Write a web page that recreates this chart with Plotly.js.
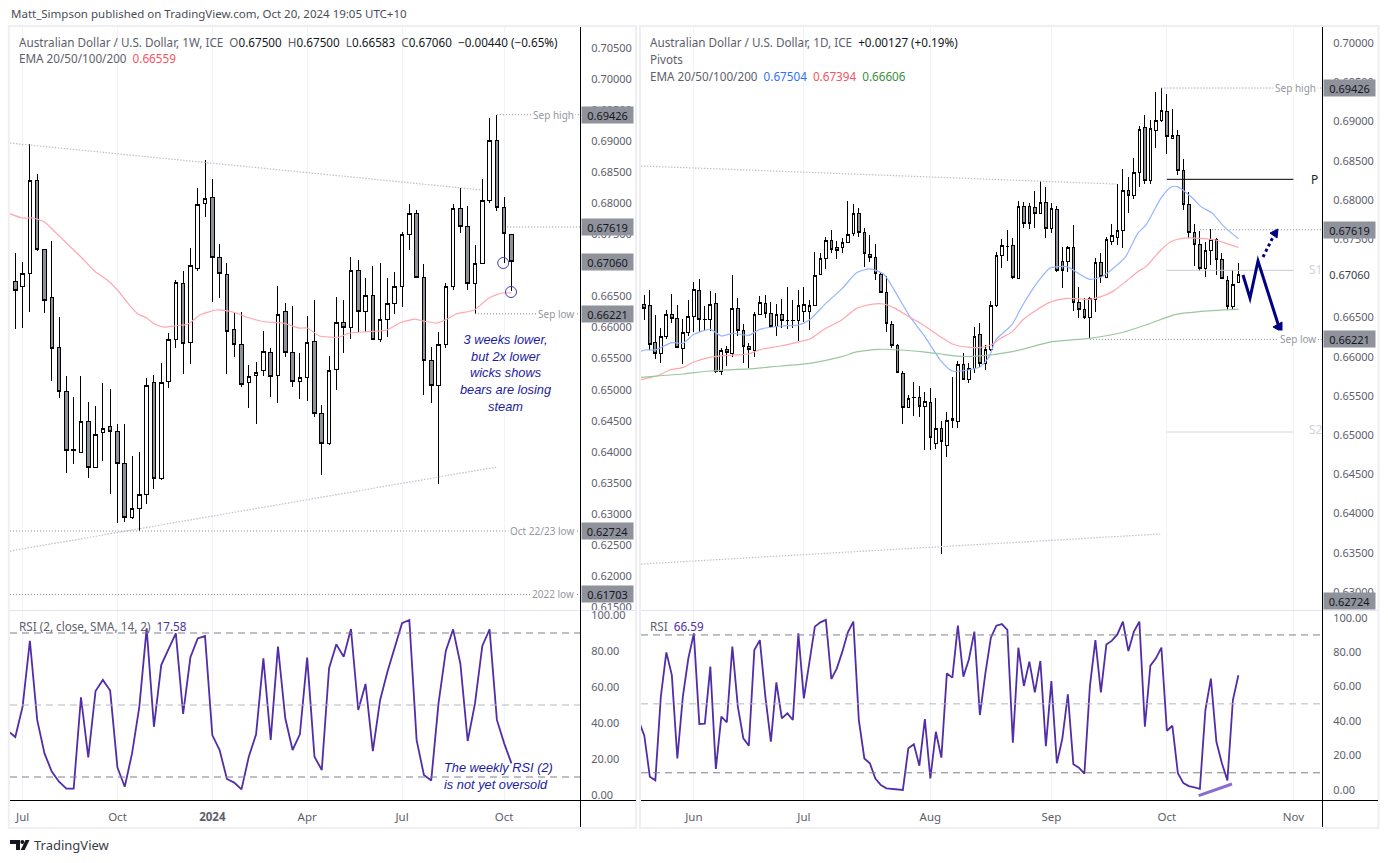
<!DOCTYPE html>
<html><head><meta charset="utf-8">
<script src="https://cdn.plot.ly/plotly-3.0.1.min.js"></script>
<style>html,body{margin:0;padding:0;background:#fff;overflow:hidden}#c{width:1388px;height:863px}.boxlayer path{shape-rendering:crispEdges}</style>
</head><body><div id="c"></div>
<script>
const weekOpen=[.68777,.66749,.66668,.66878,.68375,.67264,.66491,.65686,.64978,.64028,.63996,.64495,.63754,.64318,.64414,.64334,.63819,.62949,.63094,.63320,.65123,.63577,.65139,.65815,.66717,.65767,.66958,.67989,.68101,.67135,.66846,.65976,.65735,.65123,.65235,.65316,.65606,.65235,.66266,.65606,.65139,.65203,.65783,.64624,.64141,.65332,.66089,.66008,.66926,.66266,.66523,.65815,.66137,.66395,.66668,.67490,.67828,.66813,.65477,.65074,.65719,.66668,.67924,.67634,.66701,.67023,.68053,.69019,.67940,.67500];
const weekHigh=[.6885,.67200,.67055,.68955,.68472,.67264,.67393,.66169,.65219,.64881,.65219,.64801,.64737,.65107,.65010,.64447,.64447,.63931,.63996,.65187,.65235,.65429,.65912,.66765,.66910,.67280,.68246,.68697,.68391,.67345,.67039,.66234,.66250,.65397,.65445,.65944,.65670,.66668,.66395,.66346,.65590,.66185,.66443,.64752,.65541,.66491,.66443,.67135,.67087,.66797,.66990,.67039,.66797,.66894,.67538,.67989,.67892,.67023,.65686,.65928,.66717,.67989,.68246,.67956,.67328,.68391,.69373,.69426,.68101,.67500];
const weekLow=[.6668,.65976,.65992,.66250,.67232,.66234,.65139,.64865,.63658,.63803,.63996,.63577,.63754,.63851,.63320,.62853,.62869,.62917,.62724,.63159,.63400,.63545,.65026,.65670,.65252,.65413,.66910,.67779,.66411,.66475,.65252,.65525,.65042,.64704,.64447,.65219,.64881,.64785,.65525,.65042,.64849,.64817,.64559,.63626,.64109,.64994,.65590,.65815,.65928,.65928,.65799,.65767,.65847,.66218,.66330,.67248,.66813,.64914,.64785,.63481,.65670,.66604,.67522,.66604,.66218,.67023,.68005,.67876,.67039,.66583];
const weekClose=[.66749,.66604,.66878,.68375,.67264,.66443,.65670,.64978,.64028,.64029,.64495,.63754,.64286,.64382,.64334,.63819,.62949,.63094,.63320,.65074,.63577,.65123,.65815,.66733,.65751,.67006,.67973,.68085,.67135,.66862,.65944,.65719,.65091,.65219,.65284,.65622,.65219,.66218,.65606,.65139,.65203,.65767,.64624,.64141,.65316,.66089,.66008,.66926,.66266,.66523,.65815,.66137,.66395,.66668,.67490,.67828,.66813,.65477,.65074,.65719,.66668,.67924,.67634,.66701,.67023,.68053,.69019,.67940,.67506,.67060];
const weekEmaX=[0,2,3.4,5,5.75,8,10,12,13.6,15,16.3,17.8,19,20.1,21.5,22.6,24.7,26.3,28.6,30.8,33.1,35.4,37.6,39.9,41,42.7,44,45.4,46.8,48.6,51.9,53.7,55.7,56.9,58.8,60.2,61.4,63.9,65.9,67.7,69];
const weekEma=[.67844,.67763,.67763,.67699,.67618,.67361,.67135,.66894,.66765,.66604,.66411,.66218,.66153,.66057,.66008,.66024,.66057,.66201,.66282,.66250,.66153,.66089,.66073,.65992,.65992,.65863,.65847,.65847,.65911,.65928,.65960,.66073,.66137,.66105,.66073,.66137,.66218,.66282,.66475,.66556,.66559];
const weekRsi=[35.6,32.2,49.1,85.7,41.7,23.1,13,7.4,3.5,3.5,54.3,20.9,57.8,63.9,58,15.2,4.6,23.1,49.1,92.6,37.9,72.2,81.1,89.8,45,76.5,87,88.3,33.3,25,8.9,6.9,3.1,21.3,33.7,75.9,30.6,82.4,42.6,25,33.7,76.3,21.3,13.9,70.4,83.7,76.8,92.2,47.2,61.7,24.4,52.8,68.5,82.4,95.4,97.2,30.5,11.1,8.1,50.9,80,92,72.8,30,50.9,82.8,92,41.7,28.7,17.58];

const dayOpen=[.66668,.66655,.66184,.66039,.66256,.66541,.66490,.66103,.66307,.66515,.66847,.66477,.66477,.66681,.65814,.66094,.66039,.66617,.66337,.66133,.66082,.66541,.66681,.66553,.66388,.66541,.66464,.66464,.66464,.66579,.66579,.66655,.67046,.67255,.67484,.67395,.67395,.67459,.67574,.67829,.67586,.67306,.67268,.67051,.66821,.66413,.66146,.65788,.65355,.65483,.65483,.65368,.65419,.64900,.65091,.64874,.65189,.65176,.65903,.65712,.65852,.66286,.65916,.66086,.66656,.67293,.67408,.67420,.67000,.67918,.67918,.67905,.67828,.67969,.67637,.67880,.67212,.67212,.67395,.66694,.66604,.66503,.66732,.67204,.67012,.67472,.67523,.67612,.68122,.68058,.68351,.68925,.68245,.68887,.69014,.69129,.68785,.68823,.68377,.67943,.67586,.67433,.67127,.67357,.67497,.67242,.66974,.66643,.66949];
const dayHigh=[.66787,.66851,.66532,.66371,.66596,.66800,.66660,.66481,.66723,.66953,.66991,.66647,.66838,.66808,.66111,.66137,.67038,.66749,.66418,.66171,.66566,.66775,.66787,.66694,.66672,.66736,.66889,.66723,.66851,.66889,.66723,.67336,.67323,.67522,.67616,.67471,.67514,.67981,.67943,.67892,.67637,.67552,.67433,.67076,.67025,.66452,.66158,.65818,.65512,.65674,.65627,.65546,.65597,.65470,.65185,.65296,.65737,.65946,.66044,.65916,.66375,.66426,.66150,.66711,.67336,.67497,.67616,.67510,.67981,.67969,.67956,.68113,.68241,.68164,.67956,.67922,.67404,.67408,.67676,.66885,.66745,.66758,.67255,.67318,.67531,.67688,.68198,.68394,.68288,.68534,.68942,.69082,.69018,.69376,.69426,.69350,.69154,.68891,.68517,.68096,.67688,.67599,.67467,.67624,.67510,.67318,.67025,.67106,.67195];
const dayLow=[.66468,.66086,.65975,.65925,.66231,.66434,.66107,.65912,.66264,.66320,.66311,.66328,.66332,.65797,.65767,.65882,.66001,.66264,.65925,.65861,.66001,.66541,.66490,.66367,.66269,.66362,.66349,.66367,.66205,.66439,.66345,.66655,.67046,.67123,.67327,.67250,.67327,.67459,.67544,.67531,.67148,.67212,.66983,.66808,.66320,.66116,.65788,.65147,.65342,.65249,.65236,.64811,.64811,.64823,.63481,.64721,.65091,.65087,.65704,.65661,.65797,.65873,.65831,.66073,.66634,.67136,.67225,.66987,.67000,.67637,.67625,.67637,.67828,.67518,.67573,.67085,.66872,.67085,.66587,.66490,.66477,.66221,.66575,.66936,.67012,.67420,.67420,.67382,.67833,.68007,.68168,.68203,.68198,.68657,.68997,.68581,.68772,.68313,.67871,.67510,.67153,.67089,.67021,.67166,.67038,.66987,.66592,.66604,.66949];
const dayClose=[.66613,.66154,.66039,.66260,.66541,.66486,.66120,.66311,.66515,.66860,.66477,.66478,.66668,.65814,.66082,.66056,.66617,.66337,.66133,.66094,.66541,.66694,.66553,.66388,.66541,.66464,.66465,.66465,.66655,.66668,.66655,.67038,.67255,.67484,.67370,.67357,.67459,.67561,.67829,.67586,.67318,.67268,.67064,.66813,.66426,.66146,.65797,.65355,.65470,.65484,.65368,.65431,.64976,.65091,.64913,.65189,.65210,.65903,.65712,.65852,.66260,.65916,.66095,.66656,.67293,.67420,.67409,.67008,.67918,.67701,.67701,.67828,.67969,.67637,.67892,.67098,.67098,.67395,.66694,.66604,.66503,.66745,.67204,.67025,.67497,.67548,.67612,.68122,.68058,.68351,.68900,.68245,.68912,.69014,.69142,.68810,.68823,.68377,.67943,.67586,.67433,.67127,.67357,.67497,.67242,.67000,.66643,.66923,.67051];
const dayEma20X=[-1,0,2,5,7,9,12,14,16,19,21,25,28,30,33,36,38.6,41,43.5,45.6,48.3,51,53.8,56,61,62.7,63.9,66.8,68.8,71.8,73.7,76.8,79.1,80.9,83,85.1,87.5,89.7,91.2,93.9,95.7,96.9,99.7,101.2,103.3,105.4,108];
const dayEma20=[.66056,.66086,.66086,.66180,.66171,.66286,.66350,.66264,.66299,.66273,.66350,.66392,.66405,.66468,.66681,.66872,.67072,.67119,.67055,.66830,.66511,.66256,.65958,.65818,.65869,.66001,.66214,.66405,.66660,.66979,.67127,.67149,.67055,.66987,.67013,.67119,.67276,.67574,.67680,.68020,.68160,.68169,.68020,.67914,.67828,.67658,.67504];
const dayEma50X=[-1,2.2,4.7,7.1,8.9,11.9,14.4,18.9,21.3,24.7,27.7,30.1,32.8,35.9,38.6,41.6,43.5,45.6,48.3,51,53.8,56,59.2,61,63,64.8,66.9,68.8,71.8,74,76.8,80.9,83,85.1,87.5,89.7,91.2,93.9,95.7,97.8,100.9,103.9,105.7,108];
const dayEma50=[.65703,.65754,.65831,.65865,.65929,.65992,.66014,.66035,.66095,.66137,.66184,.66226,.66354,.66469,.66617,.66672,.66672,.66617,.66503,.66392,.66256,.66163,.66120,.66118,.66150,.66235,.66320,.66469,.66617,.66702,.66745,.66732,.66766,.66830,.66957,.67085,.67149,.67361,.67467,.67510,.67510,.67488,.67446,.67394];
const dayEma100X=[-1,2.2,7.1,11.9,18.9,24.7,30.1,35.9,38.6,42.8,46.5,50.7,53.8,57.4,61,66.9,74.2,80.9,86.3,91.2,96.6,100.9,108];
const dayEma100=[.65733,.65754,.65780,.65818,.65844,.65882,.65916,.66001,.66061,.66095,.66086,.66061,.66035,.66005,.66010,.66065,.66192,.66235,.66299,.66405,.66541,.66575,.66606];
const dayRsi=[40,31.5,7.7,5.6,54.2,79.9,66.7,18.3,54.2,76.4,90.9,38.3,38.5,71.6,12.2,42.6,39.3,83.2,48.4,30,25.7,81.2,87,54.2,28,62.5,41.6,44.5,40.6,90.9,53.2,73.5,94.8,97.3,98.7,64.4,70.6,80.3,91.5,97.7,40.6,18.3,15.5,6.7,2.9,1,.6,.4,0,24.2,26.5,14.1,41.2,6.7,33.8,18.8,67.7,65.2,95.4,65.8,75.8,91.9,43.5,67.7,88.4,95.4,96.3,92.9,27.5,82.6,60.4,74.5,56.7,74.9,25.5,63.2,15.5,30,55.5,14.9,13,9.5,60,87,56.7,84.5,86.7,90.3,97.7,80.7,91.9,97.7,36.7,72.2,76.4,82.6,34.4,37.3,9.7,4,2.3,1.5,.7,46.4,64.6,28,15.5,5.6,52.2,66.59];

const weekTickVals=[2,15,28,41,54,68];
const weekTickText=['Jul','Oct','<b>2024</b>','Apr','Jul','Oct'];
const dayTickVals=[9,29,52,74,95,118];
const dayTickText=['Jun','Jul','Aug','Sep','Oct','Nov'];
const weekPriceTicks=[.705,.70,.695,.69,.685,.68,.675,.665,.66,.655,.65,.645,.64,.635,.63,.625,.62,.615];
const dayPriceTicks=[.70,.695,.69,.685,.68,.675,.665,.66,.655,.65,.645,.64,.635,.63];
const rsiTicks=[0,20,40,60,80,100];
const weekLevels=[.69426,.67619,.67060,.66221,.62724,.61703];
const dayLevels=[.69426,.67619,.66221];
const dayLastPrice=.67060;
const pivotP=.68262, pivotS1=.67102, pivotS2=.65040;

const W=1388,H=863;
const fx=p=>p/W, fy=p=>1-p/H;
const idx=a=>a.map((_,i)=>i);
const FONT='"Noto Sans","Open Sans",sans-serif';
const TXT='#5d606b', DARK='#131722', GREYLBL='#9598a1', BOX='#8f929b';
const PURPLE='#512da8', NAVY='#000080', DOWN='#8f9199';

function candle(x,o,h,l,c,xa,ya){
  return {type:'candlestick',x:x,open:o,high:h,low:l,close:c,xaxis:xa,yaxis:ya,
    increasing:{line:{color:'#000',width:1},fillcolor:'#fff'},
    decreasing:{line:{color:'#000',width:1},fillcolor:DOWN},
    whiskerwidth:0,hoverinfo:'skip',showlegend:false};
}
function line(x,y,xa,ya,color,width,smooth){
  return {type:'scatter',mode:'lines',x:x,y:y,xaxis:xa,yaxis:ya,
    line:smooth?{color:color,width:width,shape:'spline',smoothing:.6}:{color:color,width:width},hoverinfo:'skip',showlegend:false};
}
const weekX=idx(weekOpen), dayX=idx(dayOpen);
const data=[
  line(weekEmaX,weekEma,'x','y','#ffa7ae',1.2,true),
  candle(weekX,weekOpen,weekHigh,weekLow,weekClose,'x','y'),
  line(weekX,weekRsi,'x2','y2',PURPLE,1.8),
  line(dayEma20X,dayEma20,'x3','y3','#94b5ff',1.2,true),
  line(dayEma50X,dayEma50,'x3','y3','#ffa7ae',1.2,true),
  line(dayEma100X,dayEma100,'x3','y3','#9cc79e',1.2,true),
  candle(dayX,dayOpen,dayHigh,dayLow,dayClose,'x3','y3'),
  line(dayRsi.map((_,i)=>i-1),dayRsi,'x4','y4',PURPLE,1.8)
];

const tickFont={family:FONT,size:11,color:TXT};
function xax(domain,range,anchor,vals,text,labels){
  return {domain:domain,range:range,anchor:anchor,tickmode:'array',tickvals:vals,ticktext:text,
    showticklabels:labels,showgrid:true,gridcolor:'#f0f3fa',gridwidth:1,zeroline:false,showline:false,
    ticks:labels?'outside':'',ticklen:6,tickcolor:'rgba(0,0,0,0)',tickfont:{family:FONT,size:11.5,color:TXT},
    fixedrange:true,rangeslider:{visible:false}};
}
function yax(domain,range,anchor,vals,text){
  return {domain:domain,range:range,anchor:anchor,side:'right',tickmode:'array',tickvals:vals,ticktext:text,
    showgrid:false,zeroline:false,showline:false,ticks:'outside',ticklen:8,tickcolor:'rgba(0,0,0,0)',
    tickfont:tickFont,fixedrange:true,ticklabeloverflow:'allow'};
}
const L=[fx(10),fx(580)], R=[fx(641),fx(1322)];
const MAIN=[fy(610),fy(27)], RSI=[fy(800),fy(610)];
const p5=a=>a.map(v=>v.toFixed(5)), r2=a=>a.map(v=>v.toFixed(2));
const layout={
  width:W,height:H,margin:{l:0,r:0,t:0,b:0},paper_bgcolor:'#fff',plot_bgcolor:'#fff',showlegend:false,
  dragmode:false,hovermode:false,
  xaxis:xax(L,[.2737,78.39],'y',weekTickVals,weekTickText,false),
  yaxis:yax(MAIN,[.61453,.70838],'x',weekPriceTicks,p5(weekPriceTicks)),
  xaxis2:xax(L,[.2737,78.39],'y2',weekTickVals,weekTickText,true),
  yaxis2:yax(RSI,[-2.78,102.78],'x2',rsiTicks,r2(rsiTicks)),
  xaxis3:xax(R,[-.606,123.2],'y3',dayTickVals,dayTickText,false),
  yaxis3:yax(MAIN,[.62771,.70204],'x3',dayPriceTicks,p5(dayPriceTicks)),
  xaxis4:xax(R,[-.606,123.2],'y4',dayTickVals,dayTickText,true),
  yaxis4:yax(RSI,[-5.8,104.47],'x4',rsiTicks,r2(rsiTicks))
};

const shapes=[];
const DOTS='1px,2px', TREND='1.5px,1.5px';
function seg(x0,y0,x1,y1,color,width,dash,layer){
  shapes.push({type:'line',xref:'paper',yref:'paper',x0:fx(x0),y0:fy(y0),x1:fx(x1),y1:fy(y1),
    line:{color:color,width:width,dash:dash||'solid'},layer:layer||'above'});
}
function dataSeg(xr,yr,x0,y0,x1,y1,color,width,dash){
  shapes.push({type:'line',xref:xr,yref:yr,x0:x0,y0:y0,x1:x1,y1:y1,
    line:{color:color,width:width,dash:dash||'solid'},layer:'above'});
}
function poly(pts,fill,lineColor,width,closed){
  const d=pts.map((p,i)=>(i?'L':'M')+fx(p[0])+','+fy(p[1])).join(' ')+(closed?' Z':'');
  shapes.push({type:'path',xref:'paper',yref:'paper',path:d,fillcolor:fill,
    line:{color:lineColor,width:width}});
}
// frames
for(const f of [[8.8,26,636,828],[640,26,1378.5,828]]){
  shapes.push({type:'rect',xref:'paper',yref:'paper',x0:fx(f[0]),y0:fy(f[1]),x1:fx(f[2]),y1:fy(f[3]),
    line:{color:'#eeeef4',width:2},fillcolor:'rgba(0,0,0,0)',layer:'above'});
}
// pane separators and axis lines
seg(10,610.5,636,610.5,'#e4e2f4',1.2);
seg(641,610.5,1378,610.5,'#e4e2f4',1.2);
seg(580.5,27,580.5,827,'#000',1);
seg(10,800.5,636,800.5,'#000',1);
seg(1322.5,27,1322.5,827,'#000',1);
seg(641,800.5,1378,800.5,'#000',1);
// RSI bands
for(const [xa,ya] of [['x2','y2'],['x4','y4']]){
  const xr=xa==='x2'?[.2737,78.39]:[-.606,123.2];
  dataSeg(xa,ya,xr[0],90,xr[1],90,'#7d808a',1,'7px,5px');
  dataSeg(xa,ya,xr[0],50,xr[1],50,'#b5b8c0',1,'7px,5px');
  dataSeg(xa,ya,xr[0],10,xr[1],10,'#7d808a',1,'7px,5px');
}
// weekly trendlines and levels
dataSeg('x','y',.2737,.68969,64.96,.68214,'#bfc1c8',1.2,TREND);
dataSeg('x','y',.2737,.62402,66.9,.63754,'#bfc1c8',1.2,TREND);
dataSeg('x','y',67,.69426,78.39,.69426,'#8a8d96',1,DOTS);
dataSeg('x','y',68,.67619,78.39,.67619,'#8a8d96',1,DOTS);
dataSeg('x','y',64,.66221,78.39,.66221,'#8a8d96',1,DOTS);
dataSeg('x','y',.2737,.62724,78.39,.62724,'#8a8d96',1,DOTS);
dataSeg('x','y',.2737,.61703,78.39,.61703,'#8a8d96',1,DOTS);
// daily trendlines and levels
dataSeg('x3','y3',-.606,.68432,85.7,.68202,'#bfc1c8',1.2,TREND);
dataSeg('x3','y3',-.606,.63357,93.8,.63740,'#bfc1c8',1.2,TREND);
dataSeg('x3','y3',94,.69426,123.2,.69426,'#8a8d96',1,DOTS);
dataSeg('x3','y3',101,.67619,123.2,.67619,'#8a8d96',1,DOTS);
dataSeg('x3','y3',81,.66221,123.2,.66221,'#8a8d96',1,DOTS);
// pivots
dataSeg('x3','y3',95,pivotP,118,pivotP,'#000',1);
dataSeg('x3','y3',95,pivotS1,118,pivotS1,'#c9cbd1',1);
dataSeg('x3','y3',95,pivotS2,118,pivotS2,'#d4d6db',1);
// circles on wicks
shapes.push({type:'circle',xref:'paper',yref:'paper',x0:fx(497.7),x1:fx(508.7),y0:fy(257.5),y1:fy(268.5),line:{color:'#4040b0',width:1},fillcolor:'rgba(255,255,255,0)'});
shapes.push({type:'circle',xref:'paper',yref:'paper',x0:fx(505.5),x1:fx(516.5),y0:fy(286.5),y1:fy(297.5),line:{color:'#4040b0',width:1},fillcolor:'rgba(255,255,255,0)'});
// forecast path
poly([[1243,275],[1250,298],[1258,261],[1279,327]],'rgba(0,0,0,0)',NAVY,3);
poly([[1273,327],[1282,322],[1282,332]],NAVY,NAVY,1,true);
seg(1263,257,1273,237,NAVY,3,'3px,3px');
poly([[1270,233],[1278,229],[1277,238]],NAVY,NAVY,1,true);
// RSI divergence stroke
seg(1198.7,795.7,1232,784,'#8a6cd0',3);
// logo
poly([[10,840],[20,840],[20,850],[16,850],[16,844],[10,844]],'#131722','#131722',0,true);
shapes.push({type:'circle',xref:'paper',yref:'paper',x0:fx(20.3),x1:fx(24.3),y0:fy(840),y1:fy(844),fillcolor:'#131722',line:{width:0}});
poly([[20.7,850],[25.5,840],[29.5,840],[24.7,850]],'#131722','#131722',0,true);
layout.shapes=shapes;

const ann=[];
function note(text,px,py,o){
  ann.push(Object.assign({text:text,xref:'paper',yref:'paper',x:fx(px),y:fy(py),xanchor:'left',yanchor:'middle',
    showarrow:false,align:'left',borderpad:0,font:{family:FONT,size:11.7,color:TXT}},o||{}));
}
const c=(col,t)=>'<span style="color:'+col+'">'+t+'</span>';
note('Matt_Simpson published on TradingView.com, Oct 20, 2024 19:05 UTC+10',10,13.5,{font:{family:FONT,size:11.5,color:'#4a4d57'}});
note('TradingView',32.5,845,{font:{family:FONT,size:13,color:'#3a3d46'}});
// panel legends
const v=t=>c(DARK,t);
note('Australian Dollar / U.S. Dollar, 1W, ICE  O'+v('0.67500')+'  H'+v('0.67500')+'  L'+v('0.66583')+'  C'+v('0.67060')+'  '+v('−0.00440 (−0.65%)'),18,42);
note('EMA 20/50/100/200  '+c('#f7525f','0.66559'),18,58.5);
note('RSI (2, close, SMA, 14, 2)  '+c(PURPLE,'17.58'),18,625.5);
note('Australian Dollar / U.S. Dollar, 1D, ICE  '+v('+0.00127 (+0.19%)'),649,42);
note('Pivots',649,59);
note('EMA 20/50/100/200  '+c('#2f6fff','0.67504')+'  '+c('#f7525f','0.67394')+'  '+c('#388e3c','0.66606'),649,75.5);
note('RSI  '+c(PURPLE,'66.59'),649,625.5);
// price boxes
function box(text,ya,price,px,o){
  ann.push(Object.assign({text:text,xref:'paper',yref:ya,x:fx(px),y:price,xanchor:'left',yanchor:'middle',
    width:51,height:16,bgcolor:BOX,showarrow:false,align:'center',valign:'middle',borderpad:0,
    font:{family:FONT,size:11,color:DARK}},o||{}));
}
weekLevels.forEach(p=>box(p.toFixed(5),'y',p,581));
dayLevels.forEach(p=>box(p.toFixed(5),'y3',p,1322.7));
box(dayLastPrice.toFixed(5),'y3',dayLastPrice,1322.7,{bgcolor:'rgba(0,0,0,0)',font:{family:FONT,size:11,color:'#3a3d46'}});
ann.push({text:'0.62724',xref:'paper',yref:'paper',x:fx(1322.7),y:fy(601),xanchor:'left',yanchor:'middle',width:51,height:16,bgcolor:BOX,showarrow:false,align:'center',borderpad:0,font:{family:FONT,size:11,color:DARK}});
// level names
const lbl={font:{family:FONT,size:10,color:GREYLBL},bgcolor:'#fff',xanchor:'right'};
function tag(t,px,ya,p){ann.push(Object.assign({text:t,xref:'paper',yref:ya,x:fx(px),y:p,yanchor:'middle',showarrow:false,borderpad:1},lbl));}
tag('Sep high',576,'y',.69426);
tag('Sep low',576,'y',.66221);
tag('Oct 22/23 low',576,'y',.62724);
tag('2022 low',576,'y',.61703);
tag('Sep high',1318,'y3',.69426);
tag('Sep low',1318,'y3',.66221);
note('P',1310,179,{font:{family:FONT,size:12,color:'#222'}});
note('S1',1308,270,{font:{family:FONT,size:12,color:'#d1d4dc'}});
note('S2',1308,430,{font:{family:FONT,size:12,color:'#d1d4dc'}});
// commentary
const ITAL={family:'"Liberation Sans",Arial,sans-serif',size:12.8,color:'#1c1c9e'};
note('<i>3 weeks lower,<br>but 2x lower<br>wicks shows<br>bears are losing<br>steam</i>',505,373,{xanchor:'center',align:'center',font:ITAL});
note('<i>The weekly RSI (2)<br>is not yet oversold</i>',443,776,{font:ITAL});
layout.annotations=ann;

Plotly.newPlot('c',data,layout,{displayModeBar:false,responsive:false,staticPlot:true});
</script></body></html>
